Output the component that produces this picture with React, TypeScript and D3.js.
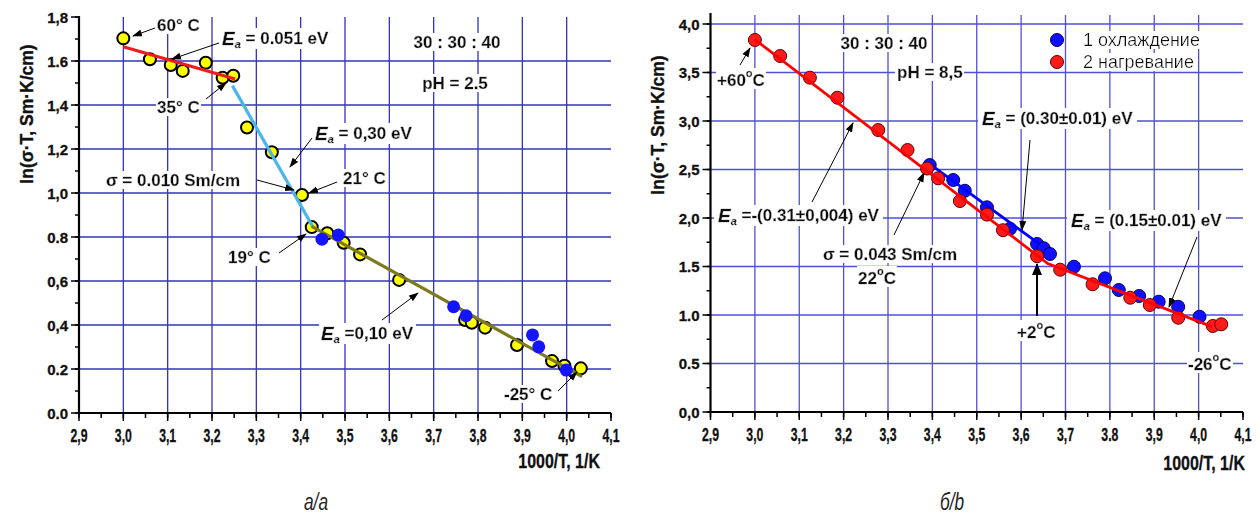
import React from 'react';
import * as d3 from 'd3';

const W = 1260;
const H = 516;
const FONT = '"Liberation Sans", Arial, sans-serif';

// ---------- Panel a (pH = 2.5) ----------
const aYellowX = [3.0, 3.06, 3.107, 3.134, 3.186, 3.224, 3.248, 3.279, 3.335, 3.403, 3.425, 3.46, 3.497, 3.534, 3.622, 3.771, 3.786, 3.816, 3.888, 3.967, 3.995, 4.032];
const aYellowY = [1.703, 1.608, 1.582, 1.555, 1.592, 1.524, 1.533, 1.298, 1.185, 0.991, 0.845, 0.817, 0.774, 0.721, 0.605, 0.423, 0.41, 0.388, 0.309, 0.236, 0.215, 0.203];
const aBlueX = [3.448, 3.485, 3.745, 3.773, 3.923, 3.937, 3.999];
const aBlueY = [0.79, 0.809, 0.483, 0.442, 0.355, 0.301, 0.195];
const aRedLineX = [3.0, 3.252];
const aRedLineY = [1.665, 1.518];
const aCyanLineX = [3.246, 3.428];
const aCyanLineY = [1.488, 0.845];
const aOliveLineX = [3.425, 4.035];
const aOliveLineY = [0.848, 0.165];
const aYTickValues = [0, 0.2, 0.4, 0.6, 0.8, 1.0, 1.2, 1.4, 1.6, 1.8];
const aYTickLabels = ['0.0', '0.2', '0,4', '0,6', '0.8', '1,0', '1,2', '1,4', '1.6', '1,8'];
const aYGrid = [0.2, 0.4, 0.6, 0.8, 1.0, 1.2, 1.4, 1.6];

// ---------- Panel b (pH = 8,5) ----------
const bRedX = [3.0, 3.057, 3.124, 3.186, 3.278, 3.344, 3.388, 3.413, 3.462, 3.523, 3.559, 3.636, 3.688, 3.761, 3.846, 3.89, 3.954, 4.032, 4.051];
const bRedY = [3.835, 3.67, 3.447, 3.24, 2.907, 2.701, 2.51, 2.409, 2.175, 2.035, 1.874, 1.606, 1.467, 1.317, 1.178, 1.103, 0.972, 0.887, 0.904];
const bBlueX = [3.394, 3.447, 3.473, 3.523, 3.575, 3.636, 3.651, 3.665, 3.719, 3.789, 3.82, 3.866, 3.91, 3.954, 4.002];
const bBlueY = [2.546, 2.392, 2.281, 2.11, 1.89, 1.732, 1.688, 1.629, 1.498, 1.378, 1.258, 1.196, 1.137, 1.085, 0.982];
const bBlueLineX = [3.393, 3.64];
const bBlueLineY = [2.56, 1.735];
const bRedLineX = [3.0, 3.66, 4.03];
const bRedLineY = [3.84, 1.53, 0.88];
const bYTickValues = [0, 0.5, 1.0, 1.5, 2.0, 2.5, 3.0, 3.5, 4.0];
const bYTickLabels = ['0,0', '0.5', '1.0', '1.5', '2,0', '2,5', '3,0', '3,5', '4,0'];
const bYGrid = [0.5, 1.0, 1.5, 2.0, 2.5, 3.0, 3.5, 4.0];
const legendLabels = ['1 охлаждение', '2 нагревание'];

// ---------- shared x axis ----------
const xTickValues = [2.9, 3.0, 3.1, 3.2, 3.3, 3.4, 3.5, 3.6, 3.7, 3.8, 3.9, 4.0, 4.1];
const aXTickLabels = ['2,9', '3,0', '3,1', '3,2', '3,3', '3,4', '3,5', '3,6', '3,7', '3,8', '3,9', '4,0', '4,1'];
const bXTickLabels = ['2,9', '3,0', '3,1', '3,2', '3,3', '3,4', '3,5', '3,6', '3,7', '3.8', '3,9', '4,0', '4,1'];
const xGrid = [3.0, 3.1, 3.2, 3.3, 3.4, 3.5, 3.6, 3.7, 3.8, 3.9, 4.0];

type Sc = d3.ScaleLinear<number, number>;

function Narrow(props: { x: number; y: number; size: number; sx: number; anchor: string; children: React.ReactNode; italic?: boolean; weight?: string; fill?: string }) {
  return (
    <text transform={`translate(${props.x},${props.y}) scale(${props.sx},1)`} textAnchor={props.anchor}
      dominantBaseline="central" fontFamily={FONT} fontWeight={props.weight || 'bold'}
      fontStyle={props.italic ? 'italic' : 'normal'} fontSize={props.size} fill={props.fill || '#111'}
      stroke={props.weight === 'normal' ? 'none' : '#111'} strokeWidth={0.3}>
      {props.children}
    </text>
  );
}

function Frame(props: {
  x: Sc; y: Sc; yTicks: number[]; yLabels: string[]; yMinorStep: number; yGrid: number[];
  xLabels: string[]; gridColor: string; top: number; gridTop: number;
}) {
  const { x, y, yTicks, yLabels, yMinorStep, yGrid, xLabels, gridColor, top, gridTop } = props;
  const [x0, x1] = x.range();
  const y0 = y.range()[0];
  const yMax = y.domain()[1];
  const minorY: number[] = [];
  for (let v = 0; v <= yMax + 1e-9; v += yMinorStep) minorY.push(+v.toFixed(3));
  const minorX: number[] = [];
  for (let v = 2.9; v <= 4.1 + 1e-9; v += 0.05) minorX.push(+v.toFixed(3));
  return (
    <g>
      {yGrid.map((v) => (
        <line key={'gy' + v} x1={x0} x2={x1} y1={y(v)} y2={y(v)} stroke={gridColor} strokeWidth={1.3} />
      ))}
      {xGrid.map((v) => (
        <line key={'gx' + v} x1={x(v)} x2={x(v)} y1={gridTop} y2={y0} stroke={gridColor} strokeWidth={1.3} />
      ))}
      {minorY.map((v) => (
        <line key={'my' + v} x1={x0 - 4} x2={x0} y1={y(v)} y2={y(v)} stroke="#000" strokeWidth={1.5} />
      ))}
      {yTicks.map((v, i) => (
        <g key={'ty' + v}>
          <line x1={x0 - 8} x2={x0} y1={y(v)} y2={y(v)} stroke="#000" strokeWidth={1.5} />
          <text x={x0 - 11} y={y(v)} textAnchor="end" dominantBaseline="central" fontFamily={FONT}
            fontWeight="bold" fontSize={15} fill="#111" stroke="#111" strokeWidth={0.3}>{yLabels[i]}</text>
        </g>
      ))}
      {minorX.map((v) => (
        <line key={'mx' + v} x1={x(v)} x2={x(v)} y1={y0} y2={y0 + 5} stroke="#000" strokeWidth={1.5} />
      ))}
      {xTickValues.map((v, i) => (
        <g key={'tx' + v}>
          <line x1={x(v)} x2={x(v)} y1={y0} y2={y0 + 8} stroke="#000" strokeWidth={1.5} />
          <Narrow x={x(v)} y={y0 + 23} size={17.5} sx={0.7} anchor="middle">{xLabels[i]}</Narrow>
        </g>
      ))}
      <line x1={x0} x2={x0} y1={top} y2={y0 + 1} stroke="#000" strokeWidth={2.2} />
      <line x1={x0 - 1} x2={x1} y1={y0} y2={y0} stroke="#000" strokeWidth={2.2} />
    </g>
  );
}

function Ea(props: { x: number; y: number; rest: string }) {
  return (
    <text x={props.x} y={props.y} dominantBaseline="central" fontFamily={FONT} fontWeight="bold"
      fontSize={17} fill="#111" stroke="#111" strokeWidth={0.35} filter="url(#wbg)">
      <tspan fontStyle="italic" fontSize={19}>E</tspan>
      <tspan fontStyle="italic" fontSize={11} dy={6}>a</tspan>
      <tspan dy={-6}>{props.rest}</tspan>
    </text>
  );
}

function Label(props: { x: number; y: number; children: React.ReactNode; anchor?: string; weight?: string; size?: number }) {
  const bold = (props.weight || 'bold') === 'bold';
  return (
    <text x={props.x} y={props.y} dominantBaseline="central" textAnchor={props.anchor || 'start'}
      fontFamily={FONT} fontWeight={props.weight || 'bold'} fontSize={props.size || 17} fill="#111"
      stroke={bold ? '#111' : 'none'} strokeWidth={0.35} filter="url(#wbg)">
      {props.children}
    </text>
  );
}

function Deg(props: { num: string }) {
  return (
    <>
      <tspan>{props.num}</tspan>
      <tspan fontSize={11} dy={-7}>o</tspan>
      <tspan dy={7}>C</tspan>
    </>
  );
}

function Arrow(props: { x1: number; y1: number; x2: number; y2: number; w?: number }) {
  return (
    <line x1={props.x1} y1={props.y1} x2={props.x2} y2={props.y2} stroke="#000"
      strokeWidth={props.w || 1} markerEnd={props.w && props.w > 1.5 ? 'url(#arrBig)' : 'url(#arr)'} />
  );
}

export default function App() {
  // Panel a scales
  const ax = d3.scaleLinear().domain([2.9, 4.1]).range([79, 611]);
  const ay = d3.scaleLinear().domain([0, 1.8]).range([413, 17]);
  // Panel b scales
  const bx = d3.scaleLinear().domain([2.9, 4.1]).range([710.5, 1243]);
  const by = d3.scaleLinear().domain([0, 4.1]).range([412, 14.3]);

  const lineA = d3.line<[number, number]>().x((d) => ax(d[0])).y((d) => ay(d[1]));
  const lineB = d3.line<[number, number]>().x((d) => bx(d[0])).y((d) => by(d[1]));
  const zip = (xs: number[], ys: number[]) => xs.map((v, i) => [v, ys[i]] as [number, number]);

  return (
    <svg width={W} height={H} style={{ position: 'absolute', left: 0, top: 0, background: '#fff' }}>
      <defs>
        <filter id="wbg" x="-0.02" y="0.05" width="1.04" height="0.9">
          <feFlood floodColor="#ffffff" />
          <feComposite in="SourceGraphic" operator="over" />
        </filter>
        <marker id="arr" markerUnits="userSpaceOnUse" markerWidth={10} markerHeight={8} refX={9} refY={4} orient="auto">
          <path d="M0,0.5 L10,4 L0,7.5 z" fill="#000" />
        </marker>
        <marker id="arrBig" markerUnits="userSpaceOnUse" markerWidth={12} markerHeight={12} refX={11} refY={6} orient="auto">
          <path d="M0,1 L12,6 L0,11 z" fill="#000" />
        </marker>
      </defs>
      <rect x={0} y={0} width={W} height={H} fill="#fff" />

      {/* ================= Panel a ================= */}
      <Frame x={ax} y={ay} yTicks={aYTickValues} yLabels={aYTickLabels} yMinorStep={0.1} yGrid={aYGrid}
        xLabels={aXTickLabels} gridColor="#3232c6" top={16} gridTop={17} />
      <text transform="translate(27,114) rotate(-90)" textAnchor="middle" dominantBaseline="central"
        fontFamily={FONT} fontWeight="bold" fontSize={17.5} fill="#111" stroke="#111" strokeWidth={0.35}>ln(σ·T, Sm·K/cm)</text>
      <Narrow x={600} y={461} size={20.5} sx={0.78} anchor="end">1000/T, 1/K</Narrow>

      {aYellowX.map((v, i) => (
        <circle key={'ay' + i} cx={ax(v)} cy={ay(aYellowY[i])} r={6} fill="#ffff00" stroke="#000" strokeWidth={2} />
      ))}
      <path d={lineA(zip(aRedLineX, aRedLineY)) || ''} stroke="#ee1c1c" strokeWidth={3.2} fill="none" />
      <path d={lineA(zip(aCyanLineX, aCyanLineY)) || ''} stroke="#4cb6ea" strokeWidth={3.2} fill="none" />
      <path d={lineA(zip(aOliveLineX, aOliveLineY)) || ''} stroke="#7d7a1e" strokeWidth={3.2} fill="none" />
      {aBlueX.map((v, i) => (
        <circle key={'ab' + i} cx={ax(v)} cy={ay(aBlueY[i])} r={6.5} fill="#1414ff" />
      ))}

      <Label x={157} y={25}>60° C</Label>
      <Arrow x1={155} y1={28} x2={133} y2={36} />
      <Ea x={222} y={38} rest=" = 0.051 eV" />
      <Arrow x1={219} y1={43} x2={172} y2={59} />
      <Label x={157} y={107}>35° C</Label>
      <Arrow x1={206} y1={99} x2={226} y2={83} />
      <Ea x={315} y={133} rest=" = 0,30 eV" />
      <Arrow x1={312} y1={138} x2={290} y2={167} />
      <Label x={106} y={180}>σ = 0.010 Sm/cm</Label>
      <Arrow x1={257} y1={180} x2={294} y2={190} />
      <Label x={343} y={178}>21° C</Label>
      <Arrow x1={337} y1={182} x2={309} y2={193} />
      <Label x={228} y={257}>19° C</Label>
      <Arrow x1={279} y1={253} x2={306} y2={234} />
      <Ea x={321} y={333} rest=" =0,10 eV" />
      <Arrow x1={382} y1={320} x2={418} y2={293} />
      <Label x={504} y={394}>-25° C</Label>
      <Arrow x1={558} y1={391} x2={577} y2={372} />
      <Label x={457} y={42} anchor="middle">30 : 30 : 40</Label>
      <Label x={455} y={83} anchor="middle">pH = 2.5</Label>

      {/* ================= Panel b ================= */}
      <Frame x={bx} y={by} yTicks={bYTickValues} yLabels={bYTickLabels} yMinorStep={0.25} yGrid={bYGrid}
        xLabels={bXTickLabels} gridColor="#5050d6" top={13} gridTop={15} />
      <text transform="translate(658,125) rotate(-90)" textAnchor="middle" dominantBaseline="central"
        fontFamily={FONT} fontWeight="bold" fontSize={17.5} fill="#111" stroke="#111" strokeWidth={0.35}>ln(σ·T, Sm·K/cm)</text>
      <Narrow x={1245} y={463} size={20.5} sx={0.78} anchor="end">1000/T, 1/K</Narrow>

      {bBlueX.map((v, i) => (
        <circle key={'bb' + i} cx={bx(v)} cy={by(bBlueY[i])} r={6.5} fill="#1010ff" stroke="#000060" strokeWidth={1} />
      ))}
      <path d={lineB(zip(bBlueLineX, bBlueLineY)) || ''} stroke="#0000ff" strokeWidth={2.8} fill="none" />
      {bRedX.map((v, i) => (
        <circle key={'br' + i} cx={bx(v)} cy={by(bRedY[i])} r={6.5} fill="#ff1a1a" stroke="#600000" strokeWidth={1} />
      ))}
      <path d={lineB(zip(bRedLineX, bRedLineY)) || ''} stroke="#ff0000" strokeWidth={2.8} fill="none" />

      <Label x={884} y={43} anchor="middle">30 : 30 : 40</Label>
      <Label x={897} y={72}>pH = 8,5</Label>
      <Label x={717} y={80}><Deg num="+60" /></Label>
      <Arrow x1={740} y1={65} x2={750} y2={48} />
      <Ea x={718} y={215} rest={' =-(0.31\u00b10,004) eV'} />
      <Arrow x1={812} y1={202} x2={853} y2={123} />
      <Label x={823} y={254}>σ = 0.043 Sm/cm</Label>
      <Label x={858} y={278}><Deg num="22" /></Label>
      <Arrow x1={894} y1={235} x2={924} y2={173} />
      <Ea x={982} y={118} rest={' = (0.30\u00b10.01) eV'} />
      <Arrow x1={1030} y1={140} x2={1022} y2={230} />
      <Ea x={1071} y={220} rest={' = (0.15\u00b10.01) eV'} />
      <Arrow x1={1197} y1={237} x2={1169} y2={307} />
      <Label x={1017} y={332}><Deg num="+2" /></Label>
      <Arrow x1={1037} y1={316} x2={1037} y2={264} w={2} />
      <Label x={1188} y={364}><Deg num="-26" /></Label>

      {/* legend */}
      <circle cx={1057} cy={40} r={6.5} fill="#1010ff" stroke="#000060" strokeWidth={1} />
      <circle cx={1057} cy={62} r={6.5} fill="#ff1a1a" stroke="#600000" strokeWidth={1} />
      <Label x={1083} y={40} weight="normal" size={18}>{legendLabels[0]}</Label>
      <Label x={1083} y={62} weight="normal" size={18}>{legendLabels[1]}</Label>

      {/* captions */}
      <Narrow x={316} y={501} size={24} sx={0.72} anchor="middle" italic weight="normal" fill="#222">а/a</Narrow>
      <Narrow x={952} y={501} size={24} sx={0.72} anchor="middle" italic weight="normal" fill="#222">б/b</Narrow>
    </svg>
  );
}
